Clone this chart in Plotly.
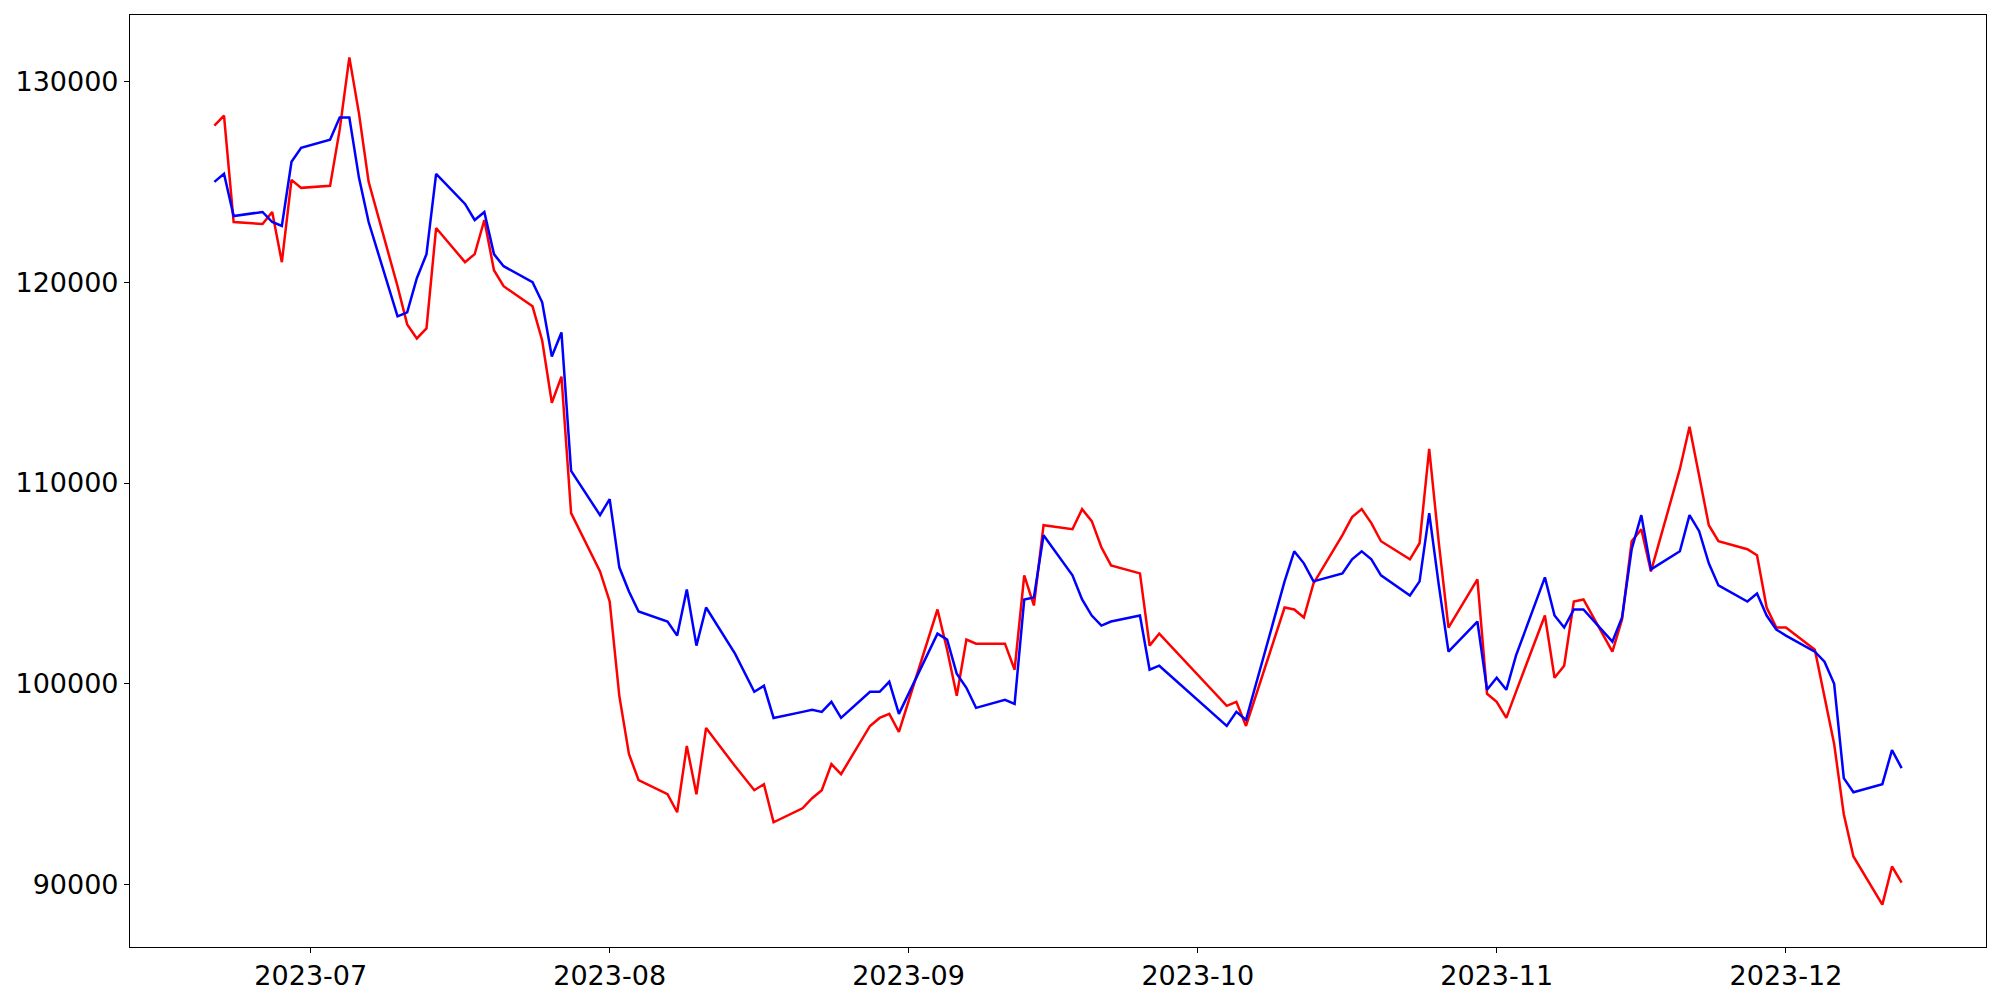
import pandas as pd
import plotly.graph_objects as go

# Trading days (KRX calendar) Jun 21 - Dec 13, 2023
dates_jun = ["2023-06-21", "2023-06-22", "2023-06-23", "2023-06-26", "2023-06-27", "2023-06-28", "2023-06-29", "2023-06-30"]
dates_jul = ["2023-07-03", "2023-07-04", "2023-07-05", "2023-07-06", "2023-07-07", "2023-07-10", "2023-07-11", "2023-07-12",
             "2023-07-13", "2023-07-14", "2023-07-17", "2023-07-18", "2023-07-19", "2023-07-20", "2023-07-21", "2023-07-24",
             "2023-07-25", "2023-07-26", "2023-07-27", "2023-07-28", "2023-07-31"]
dates_aug = ["2023-08-01", "2023-08-02", "2023-08-03", "2023-08-04", "2023-08-07", "2023-08-08", "2023-08-09", "2023-08-10",
             "2023-08-11", "2023-08-14", "2023-08-16", "2023-08-17", "2023-08-18", "2023-08-21", "2023-08-22", "2023-08-23",
             "2023-08-24", "2023-08-25", "2023-08-28", "2023-08-29", "2023-08-30", "2023-08-31"]
dates_sep = ["2023-09-01", "2023-09-04", "2023-09-05", "2023-09-06", "2023-09-07", "2023-09-08", "2023-09-11", "2023-09-12",
             "2023-09-13", "2023-09-14", "2023-09-15", "2023-09-18", "2023-09-19", "2023-09-20", "2023-09-21", "2023-09-22",
             "2023-09-25", "2023-09-26", "2023-09-27"]
dates_oct = ["2023-10-04", "2023-10-05", "2023-10-06", "2023-10-10", "2023-10-11", "2023-10-12", "2023-10-13", "2023-10-16",
             "2023-10-17", "2023-10-18", "2023-10-19", "2023-10-20", "2023-10-23", "2023-10-24", "2023-10-25", "2023-10-26",
             "2023-10-27", "2023-10-30", "2023-10-31"]
dates_nov = ["2023-11-01", "2023-11-02", "2023-11-03", "2023-11-06", "2023-11-07", "2023-11-08", "2023-11-09", "2023-11-10",
             "2023-11-13", "2023-11-14", "2023-11-15", "2023-11-16", "2023-11-17", "2023-11-20", "2023-11-21", "2023-11-22",
             "2023-11-23", "2023-11-24", "2023-11-27", "2023-11-28", "2023-11-29", "2023-11-30"]
dates_dec = ["2023-12-01", "2023-12-04", "2023-12-05", "2023-12-06", "2023-12-07", "2023-12-08", "2023-12-11", "2023-12-12",
             "2023-12-13"]

red_jun = [127800, 128300, 123000, 122900, 123500, 121000, 125100, 124700]
red_jul = [124800, 127600, 131200, 128400, 125000, 119800, 117900, 117200, 117700, 122700, 121000, 121400, 123100, 120600,
           119800, 118800, 117100, 114000, 115300, 108500, 105600]
red_aug = [104100, 99400, 96500, 95200, 94500, 93600, 96900, 94500, 97800, 95900, 94700, 95000, 93100, 93800, 94300, 94700,
           96000, 95500, 97900, 98300, 98500, 97600]
red_sep = [99100, 103700, 101700, 99400, 102200, 102000, 102000, 100700, 105400, 103900, 107900, 107700, 108700, 108100,
           106800, 105900, 105500, 101900, 102500]
red_oct = [98900, 99100, 97900, 103800, 103700, 103300, 105000, 107400, 108300, 108700, 108000, 107100, 106200, 107000,
           111700, 107000, 102800, 105200, 99500]
red_nov = [99100, 98300, 99600, 103400, 100300, 100900, 104100, 104200, 101600, 103200, 107100, 107700, 105600, 110700,
           112800, 110300, 107900, 107100, 106700, 106400, 103800, 102800]
red_dec = [102800, 101700, 99300, 97000, 93500, 91400, 89000, 90900, 90100]

blue_jun = [125000, 125400, 123300, 123500, 123000, 122800, 126000, 126700]
blue_jul = [127100, 128200, 128200, 125200, 123000, 118300, 118500, 120200, 121400, 125400, 123900, 123100, 123500, 121400,
            120800, 120000, 119000, 116300, 117500, 110600, 108400]
blue_aug = [109200, 105800, 104600, 103600, 103100, 102400, 104700, 101900, 103800, 101500, 99600, 99900, 98300, 98600,
            98700, 98600, 99100, 98300, 99600, 99600, 100100, 98500]
blue_sep = [99500, 102500, 102200, 100500, 99800, 98800, 99200, 99000, 104200, 104300, 107400, 105400, 104200, 103400,
            102900, 103100, 103400, 100700, 100900]
blue_oct = [97900, 98600, 98200, 105100, 106600, 106000, 105100, 105500, 106200, 106600, 106200, 105400, 104400, 105100,
            108500, 104900, 101600, 103100, 99700]
blue_nov = [100300, 99700, 101400, 105300, 103400, 102800, 103700, 103700, 102100, 103300, 106700, 108400, 105700, 106600,
            108400, 107600, 106000, 104900, 104100, 104500, 103400, 102700]
blue_dec = [102400, 101600, 101100, 100000, 95300, 94600, 95000, 96700, 95800]

y_ticks = [90000, 100000, 110000, 120000, 130000]

dates = pd.to_datetime(dates_jun + dates_jul + dates_aug + dates_sep + dates_oct + dates_nov + dates_dec)
red = red_jun + red_jul + red_aug + red_sep + red_oct + red_nov + red_dec
blue = blue_jun + blue_jul + blue_aug + blue_sep + blue_oct + blue_nov + blue_dec

fig = go.Figure()
fig.add_trace(go.Scatter(x=dates, y=red, mode="lines", line=dict(color="#ff0000", width=2.5), showlegend=False))
fig.add_trace(go.Scatter(x=dates, y=blue, mode="lines", line=dict(color="#0000ff", width=2.5), showlegend=False))

# matplotlib-style 5% margins
span_x = dates.max() - dates.min()
x_range = [dates.min() - 0.05 * span_x, dates.max() + 0.05 * span_x]
all_y = red + blue
span_y = max(all_y) - min(all_y)
y_range = [min(all_y) - 0.05 * span_y, max(all_y) + 0.05 * span_y]

axis_common = dict(
    showline=True, linecolor="black", linewidth=1.1, mirror=True,
    ticks="outside", ticklen=5, tickwidth=1.1, tickcolor="black",
    showgrid=False, zeroline=False, automargin=False,
    tickfont=dict(family="DejaVu Sans", size=27, color="black"),
)

# page body adds an 8px offset; size/margins compensate for it
fig.update_layout(
    width=1992, height=992,
    margin=dict(l=122, r=14, t=7, b=53),
    paper_bgcolor="white", plot_bgcolor="white",
    xaxis=dict(range=x_range, type="date", tick0="2023-07-01", dtick="M1", tickformat="%Y-%m", **axis_common),
    yaxis=dict(range=y_range, tickvals=y_ticks, tickformat="d", **axis_common),
)

fig.write_html("out.html")
